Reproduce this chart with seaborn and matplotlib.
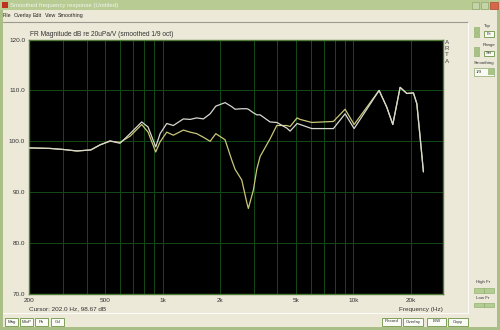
import matplotlib
matplotlib.use("Agg")
import matplotlib.pyplot as plt
from matplotlib.patches import Rectangle
import seaborn as sns
import pandas as pd

# ---- data ----
freq_hz = [200, 257, 300, 355, 420, 470, 530, 598, 675, 777, 839, 920, 970, 1051,
           1138, 1284, 1393, 1509, 1635, 1774, 1900, 2125, 2304, 2398, 2599, 2761,
           2814, 2990, 3116, 3243, 3659, 3966, 4476, 4658, 5069, 5256, 6051, 7855,
           9049, 10087, 11759, 13640, 14966, 16093, 17578, 19056, 20640, 21509,
           22380, 23293]
white_db = [98.7, 98.6, 98.4, 98.1, 98.3, 99.3, 100.1, 99.6, 101.5, 103.8, 102.8,
            98.9, 101.5, 103.5, 103.1, 104.4, 104.3, 104.6, 104.4, 105.4, 106.9,
            107.6, 106.8, 106.3, 106.4, 106.4, 106.3, 105.6, 105.2, 105.2, 103.8,
            103.7, 102.6, 102.0, 103.5, 103.3, 102.5, 102.5, 105.4, 102.5, 106.3,
            110.0, 106.7, 103.3, 110.6, 109.4, 109.5, 107.4, 100.8, 94.0]
yellow_db = [98.7, 98.6, 98.4, 98.1, 98.3, 99.3, 100.0, 99.8, 101.0, 103.3, 101.8,
             97.9, 99.9, 101.8, 101.2, 102.2, 101.8, 101.5, 100.8, 100.0, 101.5,
             100.3, 96.3, 94.5, 92.4, 88.0, 86.8, 90.4, 94.5, 97.0, 100.5, 103.1,
             103.1, 102.9, 104.6, 104.3, 103.7, 103.9, 106.3, 103.3, 106.7, 110.0,
             106.7, 103.3, 110.6, 109.4, 109.5, 107.4, 100.8, 94.0]
y_ticks = [70, 80, 90, 100, 110, 120]
y_tick_labels = ["70.0", "80.0", "90.0", "100.0", "110.0", "120.0"]
x_ticks = [200, 500, 1000, 2000, 5000, 10000, 20000]
x_tick_labels = ["200", "500", "1k", "2k", "5k", "10k", "20k"]
x_grid = [300, 400, 600, 700, 800, 900, 3000, 4000, 6000, 7000, 8000, 9000]

sns.set_style("white")
FONT = ["Liberation Sans", "DejaVu Sans"]
plt.rcParams["font.family"] = FONT

BEIGE = "#ece9d8"
fig = plt.figure(figsize=(5.0, 3.3), dpi=100, facecolor=BEIGE)

# ---- background "window" in pixel coordinates ----
bg = fig.add_axes([0, 0, 1, 1])
bg.set_xlim(0, 500)
bg.set_ylim(330, 0)
bg.axis("off")
bg.set_zorder(0)

bg.add_patch(Rectangle((0, 0), 500, 330, facecolor="#a9bf86", edgecolor="none"))
bg.add_patch(Rectangle((3, 10), 494, 317, facecolor=BEIGE, edgecolor="none"))
bg.add_patch(Rectangle((0, 0), 500, 10, facecolor="#b7cb93", edgecolor="none"))
bg.add_patch(Rectangle((2, 2), 6, 6, facecolor="#c03020", edgecolor="none"))
bg.text(10, 5, "Smoothed frequency response (Untitled)", fontsize=4.3,
        color="#f4f6ee", va="center", ha="left")
bg.add_patch(Rectangle((472, 2), 7, 7, facecolor="#c4d4a8", edgecolor="#8fa86a", lw=0.5))
bg.add_patch(Rectangle((481, 2), 7, 7, facecolor="#c4d4a8", edgecolor="#8fa86a", lw=0.5))
bg.add_patch(Rectangle((490, 2), 8, 7, facecolor="#d8664a", edgecolor="#b04a30", lw=0.5))
for xm, name in [(3, "File"), (14, "Overlay"), (33, "Edit"), (45, "View"), (58, "Smoothing")]:
    bg.text(xm, 15.5, name, fontsize=3.8, color="#222222", va="center", ha="left")
bg.plot([3, 468], [21.5, 21.5], color="#9a9a90", lw=0.8)
bg.plot([468, 468], [21.5, 313], color="#ffffff", lw=0.6)
bg.plot([3, 468], [313, 313], color="#ffffff", lw=0.6)

bg.text(30, 34, "FR Magnitude dB re 20uPa/V (smoothed 1/9 oct)", fontsize=4.8,
        color="#333333", va="center", ha="left")
bg.text(29, 309, "Cursor: 202.0 Hz, 98.67 dB", fontsize=4.6, color="#333333",
        va="center", ha="left")
bg.text(443, 310, "Frequency (Hz)", fontsize=4.6, color="#333333", va="center", ha="right")
for yy, ch in zip([42, 48, 54.5, 61.5], "ARTA"):
    bg.text(447, yy, ch, fontsize=4.5, color="#444444", va="center", ha="center")


def button(x0, x1, y0, y1, label, fs=3.2):
    bg.add_patch(Rectangle((x0, y0), x1 - x0, y1 - y0, facecolor="#fbfbf6",
                           edgecolor="#7fa05a", lw=0.7))
    bg.text((x0 + x1) / 2, (y0 + y1) / 2, label, fontsize=fs, color="#333333",
            va="center", ha="center")


for x0, x1, lab in [(5, 18, "Mag"), (20, 33, "MinP"), (35, 48, "Ph"), (51, 64, "Gd")]:
    button(x0, x1, 318, 325.5, lab)
for x0, x1, lab in [(382, 401, "Record"), (403, 423, "Overlay"), (427, 446, "B/W"),
                    (448, 468, "Copy")]:
    button(x0, x1, 317.5, 325.5, lab)


def spinner(x0, y0, y1):
    h = (y1 - y0) / 2
    for k in range(2):
        bg.add_patch(Rectangle((x0, y0 + k * h + 0.3), 5, h - 0.6, facecolor="#a7c486",
                               edgecolor="#8aa868", lw=0.4))


bg.text(487.5, 25.7, "Top", fontsize=3.2, color="#333333", va="center", ha="center")
spinner(474, 26.7, 37.7)
button(484, 494, 31, 37, "Fit", fs=3.0)
bg.text(489, 45, "Range", fontsize=3.2, color="#333333", va="center", ha="center")
spinner(474, 46.7, 56.7)
button(484, 494, 50.7, 56.3, "Set", fs=3.0)
bg.text(484, 63.3, "Smoothing", fontsize=3.2, color="#333333", va="center", ha="center")
bg.add_patch(Rectangle((474, 68.3), 20, 7.4, facecolor="#fbfbf6", edgecolor="#8aa868", lw=0.5))
bg.add_patch(Rectangle((488, 68.8), 5.5, 6.4, facecolor="#a7c486", edgecolor="none"))
bg.text(476, 72, "1/9", fontsize=3.2, color="#333333", va="center", ha="left")
bg.text(483, 282.3, "High Fr", fontsize=3.2, color="#333333", va="center", ha="center")
bg.text(483, 297.7, "Low Fr", fontsize=3.2, color="#333333", va="center", ha="center")
for yb in [288.3, 302.7]:
    for xb in [474, 484]:
        bg.add_patch(Rectangle((xb, yb), 9.5, 4.4, facecolor="#b2cc92",
                               edgecolor="#8aa868", lw=0.4))

# ---- the plot ----
L, R, T, B = 29.3, 443.0, 39.5, 294.0
ax = fig.add_axes([L / 500, 1 - B / 330, (R - L) / 500, (B - T) / 330])
ax.set_zorder(2)
ax.set_facecolor("black")

df = pd.DataFrame({"freq": freq_hz, "white": white_db, "yellow": yellow_db})
sns.lineplot(data=df, x="freq", y="yellow", ax=ax, color="#c9c777", linewidth=0.9,
             sort=False, zorder=3)
sns.lineplot(data=df, x="freq", y="white", ax=ax, color="#d8d8d0", linewidth=0.9,
             sort=False, zorder=4)

ax.set_xscale("log")
ax.set_xlim(200, 29500)
ax.set_ylim(70, 120)
ax.minorticks_off()
ax.set_xticks(x_ticks)
ax.set_xticklabels(x_tick_labels)
ax.set_yticks(y_ticks)
ax.set_yticklabels(y_tick_labels)
ax.tick_params(axis="both", length=0, labelsize=4.6, labelcolor="#333333", pad=3)
ax.set_xlabel("")
ax.set_ylabel("")

grid_c = "#134a16"
for f in x_ticks + x_grid:
    ax.axvline(f, color=grid_c, lw=0.7, zorder=1)
for v in y_ticks:
    ax.axhline(v, color=grid_c, lw=0.7, zorder=1)

for sp in ax.spines.values():
    sp.set_color("#4f7a3a")
    sp.set_linewidth(1.0)
    sp.set_visible(True)

fig.savefig("out.png", dpi=100, facecolor=BEIGE)
